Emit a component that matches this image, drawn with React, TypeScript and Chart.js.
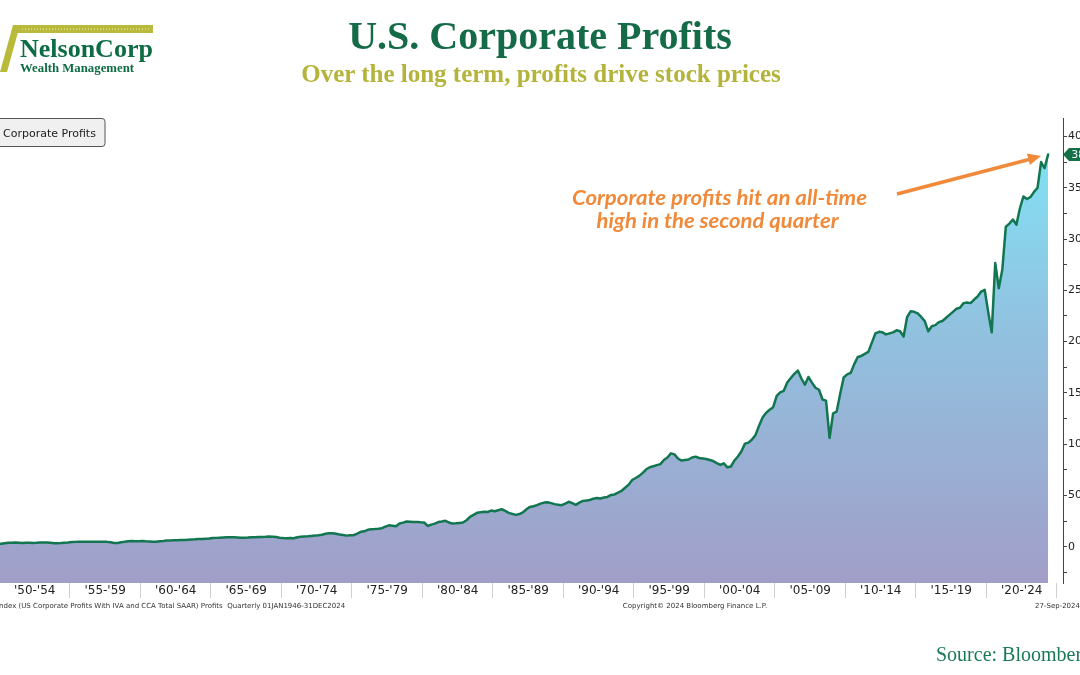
import React, { useEffect, useRef } from 'react';
import { Chart, registerables } from 'chart.js';

Chart.register(...registerables);

// Quarterly US corporate profits with IVA and CCA (SAAR, $bn), starting 1946 Q1
const startYear = 1946;
const profits = [
  20, 19, 22, 24, // 1946
  24, 25, 25, 27, // 1947
  29, 30, 31, 31, // 1948
  29, 28, 29, 28, // 1949
  28, 33, 38, 38, // 1950
  40, 38, 36, 39, // 1951
  38, 37, 38, 40, // 1952
  40, 40, 38, 34, // 1953
  33, 35, 38, 40, // 1954
  45, 47, 49, 49, // 1955
  48, 48, 47, 48, // 1956
  49, 48, 47, 44, // 1957
  36, 36, 44, 48, // 1958
  53, 56, 52, 52, // 1959
  55, 52, 51, 49, // 1960
  49, 53, 56, 60, // 1961
  61, 62, 63, 65, // 1962
  66, 68, 70, 72, // 1963
  75, 76, 78, 79, // 1964
  84, 86, 88, 90, // 1965
  92, 92, 91, 90, // 1966
  88, 88, 89, 92, // 1967
  93, 95, 95, 97, // 1968
  100, 98, 94, 88, // 1969
  84, 82, 85, 82, // 1970
  92, 96, 99, 101, // 1971
  105, 108, 112, 117, // 1972
  126, 130, 131, 126, // 1973
  118, 114, 108, 112, // 1974
  112, 128, 145, 150, // 1975
  165, 170, 172, 175, // 1976
  180, 196, 208, 205, // 1977
  200, 226, 235, 245, // 1978
  244, 240, 242, 238, // 1979
  236, 202, 215, 225, // 1980
  240, 245, 252, 236, // 1981
  225, 228, 232, 236, // 1982
  258, 290, 310, 330, // 1983
  335, 340, 338, 352, // 1984
  345, 355, 365, 350, // 1985
  330, 320, 310, 318, // 1986
  335, 365, 388, 395, // 1987
  405, 420, 430, 433, // 1988
  425, 415, 410, 405, // 1989
  420, 438, 425, 408, // 1990
  430, 446, 450, 455, // 1991
  468, 475, 470, 480, // 1992
  485, 505, 510, 527, // 1993
  545, 575, 605, 650, // 1994
  670, 690, 720, 755, // 1995
  775, 785, 795, 805, // 1996
  845, 870, 910, 900, // 1997
  860, 840, 845, 850, // 1998
  870, 878, 865, 860, // 1999
  855, 845, 835, 815, // 2000
  797, 813, 774, 782, // 2001
  840, 880, 930, 1005, // 2002
  1015, 1045, 1090, 1180, // 2003
  1260, 1305, 1335, 1360, // 2004
  1470, 1505, 1520, 1600, // 2005
  1645, 1685, 1717, 1640, // 2006
  1580, 1655, 1600, 1550, // 2007
  1530, 1435, 1424, 1060, // 2008
  1300, 1317, 1490, 1650, // 2009
  1680, 1695, 1780, 1850, // 2010
  1860, 1880, 1900, 1990, // 2011
  2080, 2095, 2090, 2070, // 2012
  2080, 2090, 2110, 2100, // 2013
  2050, 2240, 2295, 2290, // 2014
  2275, 2240, 2200, 2100, // 2015
  2150, 2160, 2190, 2200, // 2016
  2230, 2260, 2290, 2320, // 2017
  2330, 2375, 2380, 2375, // 2018
  2410, 2440, 2488, 2505, // 2019
  2290, 2090, 2765, 2520, // 2020
  2700, 3120, 3150, 3190, // 2021
  3140, 3300, 3415, 3390, // 2022
  3410, 3460, 3500, 3750, // 2023
  3690, 3825, // 2024
];

const periodLabels = [
  "'50-'54", "'55-'59", "'60-'64", "'65-'69", "'70-'74", "'75-'79", "'80-'84", "'85-'89",
  "'90-'94", "'95-'99", "'00-'04", "'05-'09", "'10-'14", "'15-'19", "'20-'24",
];
const periodCenters = [
  1952.5, 1957.5, 1962.5, 1967.5, 1972.5, 1977.5, 1982.5, 1987.5,
  1992.5, 1997.5, 2002.5, 2007.5, 2012.5, 2017.5, 2022.5,
];
// y-axis tick marks (labels shown on the 500s)
const yTicks = [
  -250, 0, 250, 500, 750, 1000, 1250, 1500, 1750, 2000,
  2250, 2500, 2750, 3000, 3250, 3500, 3750, 4000,
];

const xMin = 1950.04;
const xMax = 2025.43;
const yMin = -354;
const yMax = 4180;

const lineColor = '#127650';
const tagColor = '#137049';

const lastValueTag = {
  id: 'lastValueTag',
  afterDraw(chart: any) {
    const { ctx, chartArea, scales } = chart;
    const last = profits[profits.length - 1];
    const y = scales.y.getPixelForValue(last);
    const x0 = chartArea.right;
    ctx.save();
    ctx.fillStyle = tagColor;
    ctx.beginPath();
    ctx.moveTo(x0, y);
    ctx.lineTo(x0 + 6, y - 6.5);
    ctx.lineTo(x0 + 60, y - 6.5);
    ctx.lineTo(x0 + 60, y + 6.5);
    ctx.lineTo(x0 + 6, y + 6.5);
    ctx.closePath();
    ctx.fill();
    ctx.fillStyle = '#ffffff';
    ctx.font = '10.5px "DejaVu Sans"';
    ctx.textBaseline = 'middle';
    ctx.textAlign = 'left';
    ctx.fillText(String(last), x0 + 8.5, y + 0.5);
    ctx.restore();
  },
};

export default function App() {
  const ref = useRef<HTMLCanvasElement>(null);

  useEffect(() => {
    const canvas = ref.current;
    if (!canvas) return;
    const points = profits.map((v, i) => ({ x: startYear + i / 4 + 0.125, y: v }));
    const chart = new Chart(canvas, {
      type: 'line',
      data: {
        datasets: [
          {
            label: 'Corporate Profits',
            data: points,
            borderColor: lineColor,
            borderWidth: 2.5,
            borderJoinStyle: 'round',
            borderCapStyle: 'round',
            pointRadius: 0,
            tension: 0,
            fill: 'start',
            backgroundColor: (c: any) => {
              const { chart: ch } = c;
              const area = ch.chartArea;
              if (!area) return 'rgba(0,0,0,0)';
              const g = ch.ctx.createLinearGradient(0, area.top, 0, area.bottom);
              g.addColorStop(0, '#7fe6f8');
              g.addColorStop(0.45, '#91c2e0');
              g.addColorStop(1, '#a19ec8');
              return g;
            },
          },
        ],
      },
      options: {
        responsive: false,
        animation: false,
        devicePixelRatio: 1,
        layout: { padding: { top: 18, left: 0, right: 0, bottom: 0 } },
        plugins: {
          legend: { display: false },
          tooltip: { enabled: false },
        },
        scales: {
          x: {
            type: 'linear',
            min: xMin,
            max: xMax,
            afterBuildTicks: (scale: any) => {
              scale.ticks = periodCenters.map((v) => ({ value: v }));
            },
            afterFit: (scale: any) => {
              scale.height = 20;
            },
            border: { display: false },
            grid: {
              offset: true,
              drawOnChartArea: false,
              drawTicks: true,
              tickLength: 15,
              color: '#cfcfcf',
              lineWidth: 1,
            },
            ticks: {
              autoSkip: false,
              maxRotation: 0,
              padding: -14,
              color: '#222222',
              font: { family: 'DejaVu Sans', size: 12 },
              callback: (_v: any, i: number) => periodLabels[i],
            },
          },
          y: {
            type: 'linear',
            position: 'right',
            min: yMin,
            max: yMax,
            afterBuildTicks: (scale: any) => {
              scale.ticks = yTicks.map((v) => ({ value: v }));
            },
            afterFit: (scale: any) => {
              scale.width = 60;
            },
            border: { display: true, color: '#444444', width: 1 },
            grid: {
              drawOnChartArea: false,
              drawTicks: true,
              tickLength: 4,
              color: '#444444',
            },
            ticks: {
              autoSkip: false,
              padding: 1,
              color: '#222222',
              font: { family: 'DejaVu Sans', size: 11 },
              callback: (v: any) => (Number(v) % 500 === 0 ? String(v) : ''),
            },
          },
        },
      },
      plugins: [lastValueTag],
    } as any);
    return () => chart.destroy();
  }, []);

  const serif = '"Liberation Serif", "Times New Roman", serif';
  const sans = '"DejaVu Sans", sans-serif';
  const orange = '#f08a3a';

  return (
    <div
      style={{
        position: 'fixed',
        left: 0,
        top: 0,
        width: 1080,
        height: 675,
        overflow: 'hidden',
        background: '#ffffff',
      }}
    >
      <canvas
        ref={ref}
        width={1123}
        height={503}
        style={{ position: 'absolute', left: 0, top: 100, width: 1123, height: 503 }}
      />
      <svg
        width={1080}
        height={675}
        style={{ position: 'absolute', left: 0, top: 0, pointerEvents: 'none' }}
      >
        {/* Logo */}
        <polygon points="0,72 7,72 20,25 13,25" fill="#b9b93a" />
        <rect x={13} y={25} width={140} height={8} fill="#b9b93a" />
        <line x1={22} y1={29} x2={150} y2={29} stroke="#ffffff" strokeWidth={1} strokeDasharray="1 2" opacity={0.8} />
        <text x={20} y={57} fontFamily={serif} fontWeight="bold" fontSize={26} fill="#0e6c44">
          NelsonCorp
        </text>
        <text x={20} y={72} fontFamily={serif} fontWeight="bold" fontSize={13} fill="#0e6c44" textLength={114} lengthAdjust="spacingAndGlyphs">
          Wealth Management
        </text>

        {/* Titles */}
        <text x={540} y={49} textAnchor="middle" fontFamily={serif} fontWeight="bold" fontSize={40} fill="#156b47">
          U.S. Corporate Profits
        </text>
        <text x={541} y={82} textAnchor="middle" fontFamily={serif} fontWeight="bold" fontSize={25} fill="#b4b43c">
          Over the long term, profits drive stock prices
        </text>

        {/* Legend box */}
        <rect x={-5} y={118.5} width={110} height={28} rx={3} fill="#f0f0f0" stroke="#555555" strokeWidth={1} />
        <text x={3} y={136.5} fontFamily={sans} fontSize={11} fill="#222222">
          Corporate Profits
        </text>

        {/* Annotation */}
        <text x={719.5} y={205} textAnchor="middle" fontFamily="Lato, sans-serif" fontStyle="italic" fontWeight="bold" fontSize={21} fill={orange} textLength={295} lengthAdjust="spacingAndGlyphs">
          Corporate profits hit an all-time
        </text>
        <text x={717.5} y={228} textAnchor="middle" fontFamily="Lato, sans-serif" fontStyle="italic" fontWeight="bold" fontSize={21} fill={orange} textLength={242} lengthAdjust="spacingAndGlyphs">
          high in the second quarter
        </text>
        <line x1={897} y1={194} x2={1029} y2={159.5} stroke={orange} strokeWidth={3.5} />
        <polygon points="1041,156 1029.9,165.1 1026.9,153.5" fill={orange} />

        {/* Footer */}
        <text x={-3} y={608} fontFamily={sans} fontSize={7} fill="#333333" style={{ whiteSpace: 'pre' }}>
          {'Index (US Corporate Profits With IVA and CCA Total SAAR) Profits  Quarterly 01JAN1946-31DEC2024'}
        </text>
        <text x={695} y={608} textAnchor="middle" fontFamily={sans} fontSize={7} fill="#333333">
          Copyright© 2024 Bloomberg Finance L.P.
        </text>
        <text x={1035} y={608} fontFamily={sans} fontSize={7} fill="#333333">
          27-Sep-2024
        </text>
        <text x={936} y={661} fontFamily={serif} fontSize={20} fill="#1a7a55">
          Source: Bloomberg
        </text>
      </svg>
    </div>
  );
}
